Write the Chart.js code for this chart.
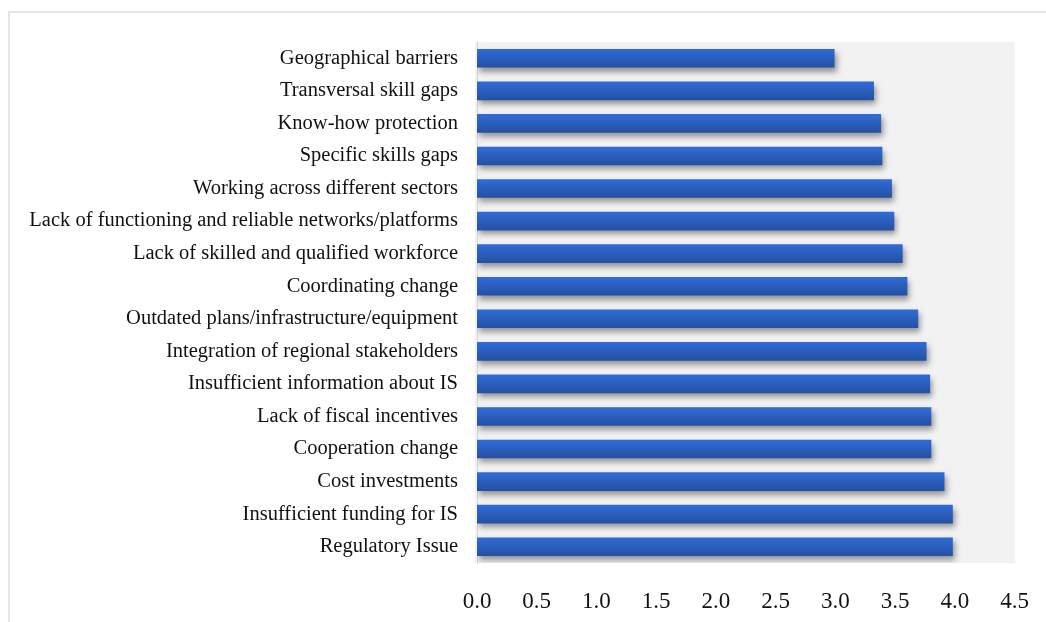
<!DOCTYPE html>
<html>
<head>
<meta charset="utf-8">
<script src="https://cdn.jsdelivr.net/npm/chart.js@4"></script>
<style>
  html, body { margin:0; padding:0; background:#fff; }
  #wrap { position:relative; width:1046px; height:622px; overflow:hidden; }
  #frame { position:absolute; left:8px; top:11px; width:1100px; height:700px;
           border-top:2px solid #e1e6ec; border-left:2px solid #e1e6ec; }
  canvas { position:absolute; left:0; top:0; }
</style>
</head>
<body>
<div id="wrap">
  <div id="frame"></div>
  <canvas id="barriers" width="1046" height="622"></canvas>
</div>
<script>
const LABELS = [
  "Geographical barriers",
  "Transversal skill gaps",
  "Know-how protection",
  "Specific skills gaps",
  "Working across different sectors",
  "Lack of functioning and reliable networks/platforms",
  "Lack of skilled and qualified workforce",
  "Coordinating change",
  "Outdated plans/infrastructure/equipment",
  "Integration of regional stakeholders",
  "Insufficient information about IS",
  "Lack of fiscal incentives",
  "Cooperation change",
  "Cost investments",
  "Insufficient funding for IS",
  "Regulatory Issue"
];
const SCORES = [2.99, 3.32, 3.38, 3.39, 3.47, 3.49, 3.56, 3.60, 3.69, 3.76, 3.79, 3.80, 3.80, 3.91, 3.98, 3.98];
const X_TICKS = [0, 0.5, 1, 1.5, 2, 2.5, 3, 3.5, 4, 4.5];

const FONT = "'Liberation Serif', 'DejaVu Serif', serif";
const BAR_H = 18;

// grey plot background
const plotBg = {
  id: "plotBg",
  beforeDraw(chart){
    const { ctx, chartArea:a } = chart;
    ctx.save();
    ctx.fillStyle = "#f2f2f2";
    ctx.fillRect(a.left - 2, a.top, a.right - a.left + 2, a.bottom - a.top);
    ctx.restore();
  }
};

// soft drop shadow under bars
const barShadow = {
  id: "barShadow",
  beforeDatasetsDraw(chart){
    const ctx = chart.ctx;
    ctx.save();
    ctx.shadowColor = "rgba(0,0,0,0.4)";
    ctx.shadowBlur = 6;
    ctx.shadowOffsetX = 2;
    ctx.shadowOffsetY = 4;
  },
  afterDatasetsDraw(chart){
    chart.ctx.restore();
  }
};

new Chart(document.getElementById("barriers"), {
  type: "bar",
  data: {
    labels: LABELS,
    datasets: [{
      data: SCORES,
      barThickness: BAR_H,
      borderWidth: 0,
      backgroundColor: (c) => {
        const ch = c.chart;
        const y = ch.scales.y;
        if (!y || c.dataIndex === undefined) return "#2b5fc4";
        const mid = y.getPixelForValue(c.dataIndex);
        if (!Number.isFinite(mid)) return "#2b5fc4";
        const g = ch.ctx.createLinearGradient(0, mid - BAR_H/2, 0, mid + BAR_H/2);
        g.addColorStop(0, "#306cd6");
        g.addColorStop(1, "#2450a4");
        return g;
      }
    }]
  },
  options: {
    indexAxis: "y",
    responsive: false,
    animation: false,
    layout: { padding: { left: 0, top: 42, right: 24, bottom: 0 } },
    plugins: { legend: { display:false }, tooltip: { enabled:false } },
    scales: {
      x: {
        min: 0, max: 4.5,
        afterBuildTicks: (s) => { s.ticks = X_TICKS.map(v => ({ value:v })); },
        afterFit: (s) => { s.height = 622 - 563; },
        grid: { display:false },
        border: { display:false },
        ticks: {
          color: "#111",
          padding: 17,
          font: { family: FONT, size: 23 },
          callback: (v) => Number(v).toFixed(1)
        }
      },
      y: {
        afterFit: (s) => { s.width = 477; },
        grid: { display:false },
        border: { color:"#d9d9d9", width:1 },
        ticks: {
          color: "#111",
          padding: 11,
          font: { family: FONT, size: 20.5 }
        }
      }
    }
  },
  plugins: [plotBg, barShadow]
});
</script>
</body>
</html>
